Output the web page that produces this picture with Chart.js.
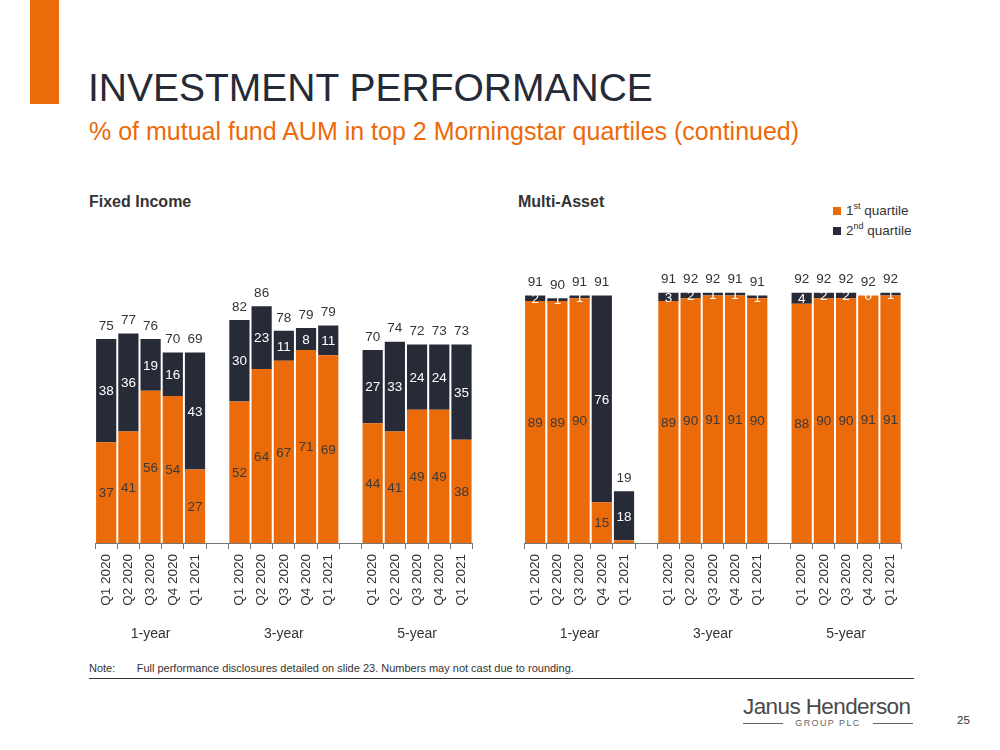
<!DOCTYPE html>
<html>
<head>
<meta charset="utf-8">
<script src="https://cdn.jsdelivr.net/npm/chart.js@4"></script>
<style>
  html,body{margin:0;padding:0;background:#fff;}
  body{width:1000px;height:750px;position:relative;overflow:hidden;font-family:"Liberation Sans",Arial,sans-serif;}
  .abs{position:absolute;white-space:nowrap;}
  #bar{left:30px;top:0;width:29px;height:104px;background:#EB6A0A;}
  #title{left:88px;top:66px;font-size:39px;color:#262A36;line-height:44px;}
  #subtitle{left:89px;top:116px;font-size:25px;color:#EB6A0A;line-height:30px;}
  .sect{font-size:16px;font-weight:bold;color:#333;top:193px;}
  .leg{left:833px;font-size:13.5px;color:#333;}
  .leg span.sq{display:inline-block;width:8px;height:8px;margin-right:5px;vertical-align:0px;}
  .leg sup{font-size:9px;vertical-align:6px;line-height:0;}
  #note{left:89px;top:662px;font-size:11px;color:#333;}
  #rule{left:89px;top:678px;width:825px;height:1px;background:#333;}
  #logo{left:743px;top:694px;font-size:22.5px;color:#4a4a4a;letter-spacing:-0.6px;}
  #plc{left:743px;top:718px;width:170px;height:11px;font-size:9px;line-height:11px;color:#666;letter-spacing:1.4px;text-align:center;}
  #plc:before,#plc:after{content:"";position:absolute;top:5px;height:1px;background:#666;width:40px;}
  #plc:before{left:0;} #plc:after{right:0;}
  #page{left:957px;top:714px;font-size:11.5px;color:#333;}
  canvas{position:absolute;}
</style>
</head>
<body>
<div class="abs" id="bar"></div>
<div class="abs" id="title">INVESTMENT PERFORMANCE</div>
<div class="abs" id="subtitle">% of mutual fund AUM in top 2 Morningstar quartiles (continued)</div>
<div class="abs sect" style="left:89px;">Fixed Income</div>
<div class="abs sect" style="left:518px;">Multi-Asset</div>
<div class="abs leg" style="top:203px;"><span class="sq" style="background:#EB6A0A"></span>1<sup>st</sup> quartile</div>
<div class="abs leg" style="top:223px;"><span class="sq" style="background:#272B37"></span>2<sup>nd</sup> quartile</div>
<canvas id="fi" width="394" height="399" style="left:89px;top:250px;"></canvas>
<canvas id="ma" width="394" height="399" style="left:518px;top:250px;"></canvas>
<div class="abs" id="note">Note:&nbsp;&nbsp;&nbsp;&nbsp;&nbsp;&nbsp;&nbsp;Full performance disclosures detailed on slide 23. Numbers may not cast due to rounding.</div>
<div class="abs" id="rule"></div>
<div class="abs" id="logo">Janus Henderson</div>
<div class="abs" id="plc">GROUP PLC</div>
<div class="abs" id="page">25</div>
<script>
// ---- data ----
const quarters = ['Q1 2020', 'Q2 2020', 'Q3 2020', 'Q4 2020', 'Q1 2021'];
const periods = ['1-year', '3-year', '5-year'];
const seriesNames = ['1st quartile', '2nd quartile'];

const fiFirst  = [37, 41, 56, 54, 27,  52, 64, 67, 71, 69,  44, 41, 49, 49, 38];
const fiSecond = [38, 36, 19, 16, 43,  30, 23, 11, 8, 11,   27, 33, 24, 24, 35];
const fiTotal  = [75, 77, 76, 70, 69,  82, 86, 78, 79, 79,  70, 74, 72, 73, 73];

const maFirst  = [89, 89, 90, 15, 1,   89, 90, 91, 91, 90,  88, 90, 90, 91, 91];
const maSecond = [2, 1, 1, 76, 18,     3, 2, 1, 1, 1,       4, 2, 2, 0, 1];
const maTotal  = [91, 90, 91, 91, 19,  91, 92, 92, 91, 91,  92, 92, 92, 92, 92];

const ORANGE = '#EB6A0A';
const DARK = '#272B37';

// insert a gap slot between period groups
function withGaps(arr, gap) {
  const out = [];
  periods.forEach((p, g) => {
    if (g > 0) out.push(gap);
    for (let q = 0; q < quarters.length; q++) out.push(arr[g * quarters.length + q]);
  });
  return out;
}
const tickLabels = withGaps(periods.flatMap(() => quarters), '');
const groupLabels = [];
periods.forEach((p, g) => {
  if (g > 0) groupLabels.push('');
  quarters.forEach((q, i) => groupLabels.push(i === 2 ? p : ''));
});

const labelPlugin = {
  id: 'barLabels',
  afterDatasetsDraw(chart) {
    const ctx = chart.ctx;
    const totals = chart.options.plugins.barLabels.totals;
    ctx.save();
    ctx.font = '13.5px "Liberation Sans", Arial, sans-serif';
    ctx.textAlign = 'center';
    ctx.textBaseline = 'middle';
    const m0 = chart.getDatasetMeta(0), m1 = chart.getDatasetMeta(1);
    const d0 = chart.data.datasets[0].data, d1 = chart.data.datasets[1].data;
    let k = 0;
    for (let i = 0; i < d0.length; i++) {
      if (d0[i] === null) continue;
      const e0 = m0.data[i], e1 = m1.data[i];
      if (d0[i] >= 3) {
        ctx.fillStyle = '#3a3a3a';
        ctx.fillText(String(d0[i]), e0.x, (e0.y + e0.base) / 2 + 1);
      }
      ctx.fillStyle = '#ffffff';
      ctx.fillText(String(d1[i]), e1.x, (e1.y + e1.base) / 2 + 1);
      ctx.fillStyle = '#333333';
      const top = Math.min(e0.y, e1.y);
      ctx.fillText(String(totals[k]), e1.x, top - 13);
      k++;
    }
    ctx.restore();
  }
};

function makeChart(id, first, second, totals) {
  return new Chart(document.getElementById(id), {
    type: 'bar',
    data: {
      labels: tickLabels,
      datasets: [
        { label: seriesNames[0], data: withGaps(first, null), backgroundColor: ORANGE, borderWidth: 0,
          barPercentage: 1, categoryPercentage: 0.91, xAxisID: 'x', stack: 's' },
        { label: seriesNames[1], data: withGaps(second, null), backgroundColor: DARK, borderWidth: 0,
          barPercentage: 1, categoryPercentage: 0.91, xAxisID: 'x', stack: 's' }
      ]
    },
    options: {
      responsive: false,
      devicePixelRatio: 1,
      animation: false,
      layout: { padding: { top: 21, left: 0, right: 0, bottom: 0 } },
      plugins: {
        legend: { display: false },
        tooltip: { enabled: false },
        barLabels: { totals: totals }
      },
      scales: {
        x: {
          type: 'category',
          stacked: true,
          offset: true,
          weight: 0,
          afterFit(s) { s.height = 66; },
          grid: { offset: true, drawOnChartArea: false, drawTicks: true, tickLength: 6, color: '#777' },
          border: { display: true, color: '#777', width: 1 },
          ticks: { autoSkip: false, minRotation: 90, maxRotation: 90, padding: 5, color: '#333',
                   font: { family: '"Liberation Sans", Arial, sans-serif', size: 13.5 } }
        },
        x2: {
          type: 'category',
          position: 'bottom',
          labels: groupLabels,
          offset: true,
          weight: 1,
          afterFit(s) { s.height = 40; },
          grid: { display: false, drawTicks: false },
          border: { display: false },
          ticks: { autoSkip: false, maxRotation: 0, minRotation: 0, padding: 17, color: '#333',
                   font: { family: '"Liberation Sans", Arial, sans-serif', size: 14 } }
        },
        y: {
          stacked: true,
          display: false,
          min: 0,
          max: 100
        }
      }
    },
    plugins: [labelPlugin]
  });
}

makeChart('fi', fiFirst, fiSecond, fiTotal);
makeChart('ma', maFirst, maSecond, maTotal);
</script>
</body>
</html>
